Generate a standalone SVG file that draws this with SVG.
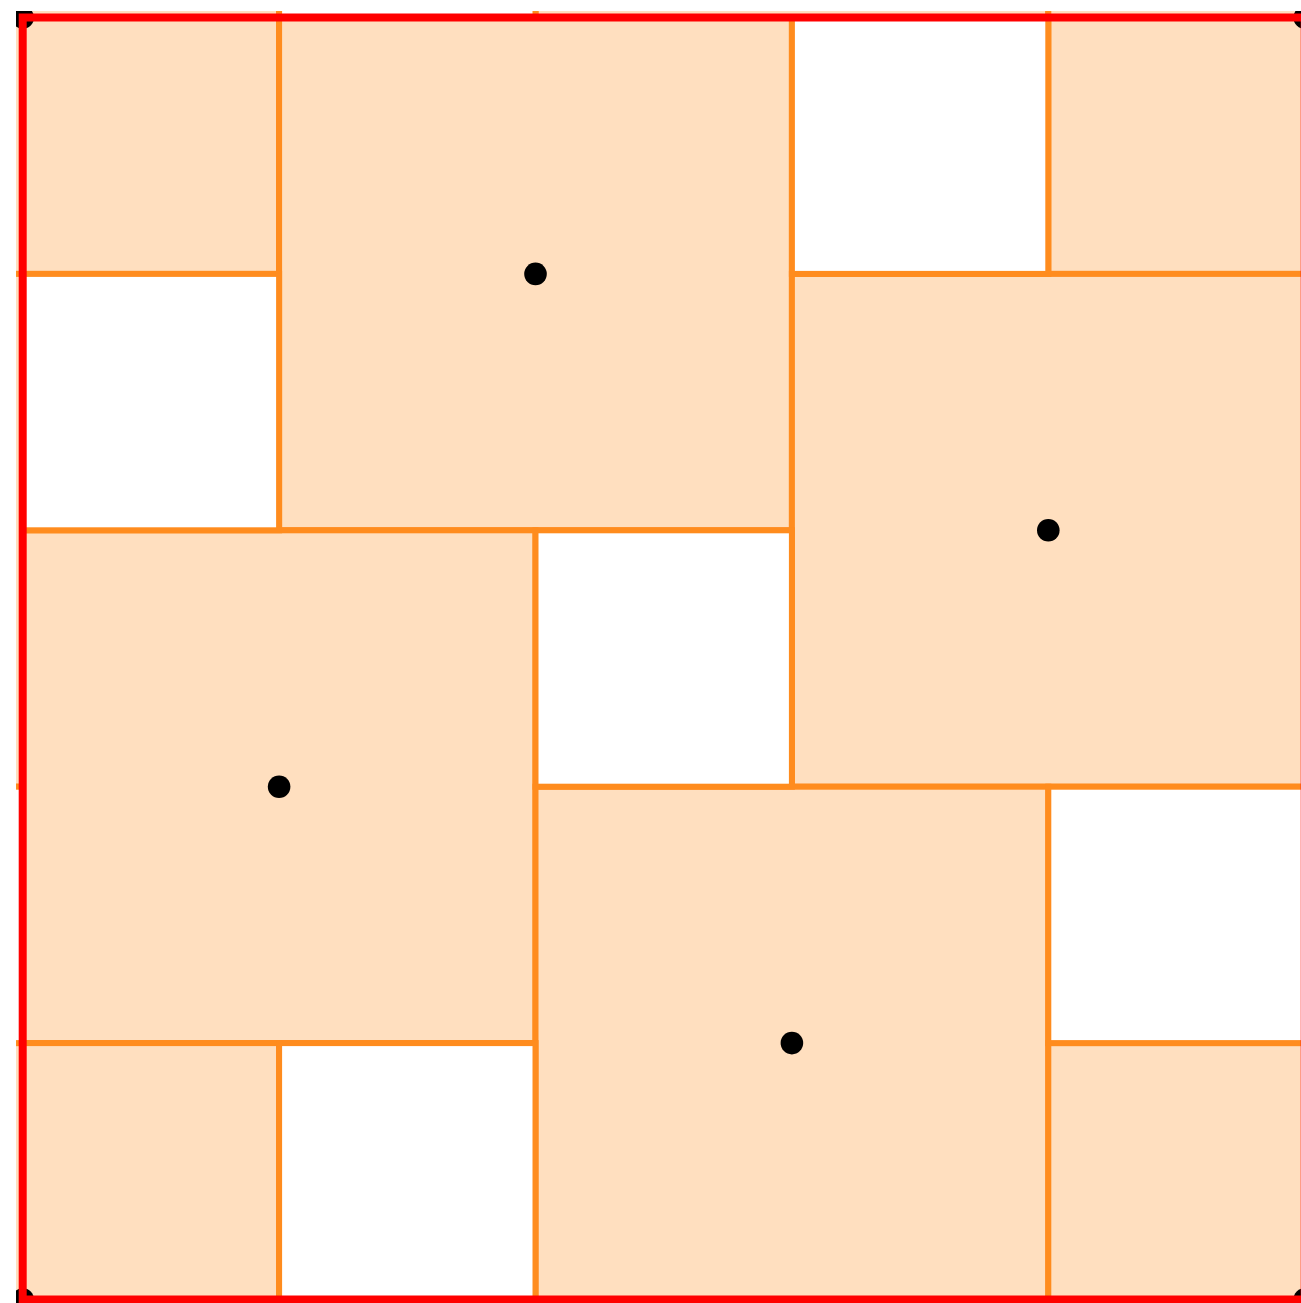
<svg xmlns="http://www.w3.org/2000/svg" width="1301" height="1303" viewBox="0 0 1301 1303">
  <style>
    .big { fill: #FFDFBF; stroke: #FF8C1E; stroke-width: 6; }
    .gap { fill: #FFFFFF; stroke: #FF8C1E; stroke-width: 6; }
    .dot { fill: #000000; }
    .frame { fill: none; stroke: #FF0000; stroke-width: 8; }
  </style>
  <defs>
    <clipPath id="plot">
      <rect x="16" y="11" width="1295" height="1300"/>
    </clipPath>
  </defs>
  <rect x="0" y="0" width="1301" height="1303" fill="#FFFFFF"/>
  <g clip-path="url(#plot)">
    <g id="tiles">
      <rect id="big-corner" class="big" x="-233.7" y="-238.9" width="512.8" height="512.8"/>
      <rect id="big-top-out" class="big" x="535.5" y="-495.3" width="512.8" height="512.8"/>
      <rect id="big-topright-corner" class="big" x="1048.3" y="-238.9" width="512.8" height="512.8"/>
      <rect id="big-A" class="big" x="279.1" y="17.5" width="512.8" height="512.8"/>
      <rect id="big-B" class="big" x="791.9" y="273.9" width="512.8" height="512.8"/>
      <rect id="big-left-out" class="big" x="-490.1" y="273.9" width="512.8" height="512.8"/>
      <rect id="big-C" class="big" x="22.7" y="530.3" width="512.8" height="512.8"/>
      <rect id="big-D" class="big" x="535.5" y="786.7" width="512.8" height="512.8"/>
      <rect id="big-bottomleft-corner" class="big" x="-233.7" y="1043.1" width="512.8" height="512.8"/>
      <rect id="big-bottomright-corner" class="big" x="1048.3" y="1043.1" width="512.8" height="512.8"/>
      <rect id="gap-top-out" class="gap" x="279.1" y="-238.9" width="256.4" height="256.4"/>
      <rect id="gap-1" class="gap" x="791.9" y="17.5" width="256.4" height="256.4"/>
      <rect id="gap-2" class="gap" x="22.7" y="273.9" width="256.4" height="256.4"/>
      <rect id="gap-3" class="gap" x="535.5" y="530.3" width="256.4" height="256.4"/>
      <rect id="gap-4" class="gap" x="1048.3" y="786.7" width="256.4" height="256.4"/>
      <rect id="gap-left-out" class="gap" x="-233.7" y="786.7" width="256.4" height="256.4"/>
      <rect id="gap-5" class="gap" x="279.1" y="1043.1" width="256.4" height="256.4"/>
    </g>
    <g id="centers">
      <circle id="dot-A" class="dot" cx="535.5" cy="273.9" r="11.3"/>
      <circle id="dot-B" class="dot" cx="1048.3" cy="530.3" r="11.3"/>
      <circle id="dot-C" class="dot" cx="279.1" cy="786.7" r="11.3"/>
      <circle id="dot-D" class="dot" cx="791.9" cy="1043.1" r="11.3"/>
      <circle id="dot-tl" class="dot" cx="22.7" cy="17.5" r="11.3"/>
      <circle id="dot-tr" class="dot" cx="1304.7" cy="17.5" r="11.3"/>
      <circle id="dot-bl" class="dot" cx="22.7" cy="1299.5" r="11.3"/>
      <circle id="dot-br" class="dot" cx="1304.7" cy="1299.5" r="11.3"/>
    </g>
    <g id="frame">
      <rect class="frame" x="22.7" y="17.5" width="1282" height="1282"/>
    </g>
  </g>
</svg>
